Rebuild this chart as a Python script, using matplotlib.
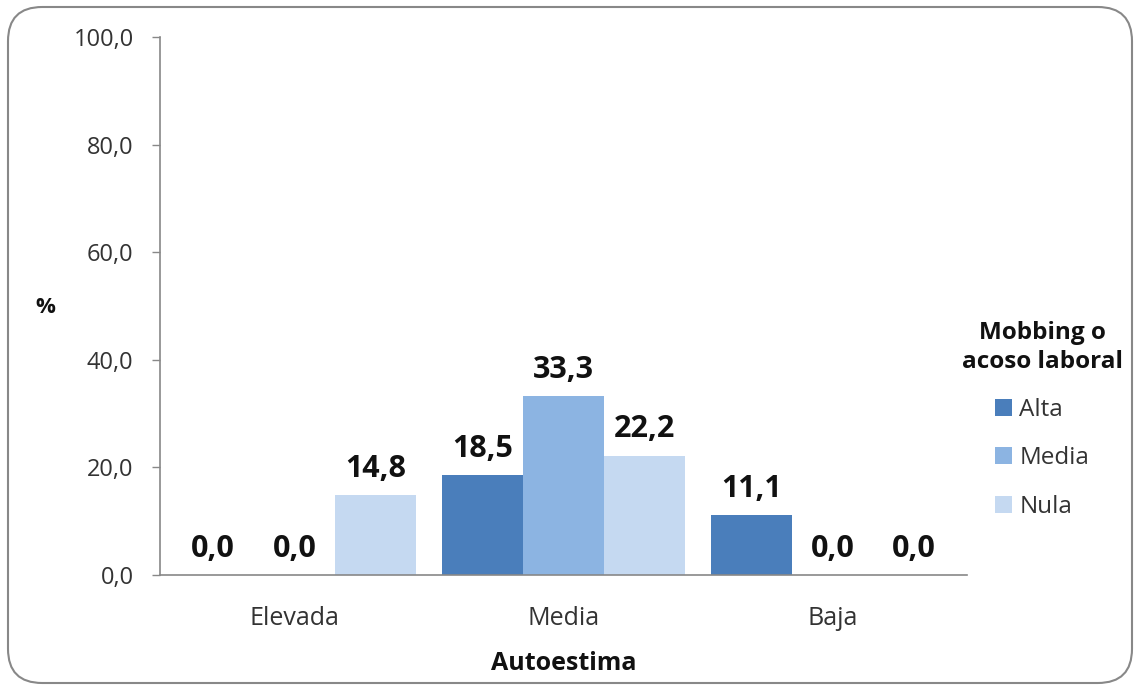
import matplotlib
matplotlib.use("Agg")
import matplotlib.pyplot as plt
import numpy as np
from matplotlib.patches import FancyBboxPatch

categories = ["Elevada", "Media", "Baja"]
series_names = ["Alta", "Media", "Nula"]
alta = [0.0, 18.5, 11.1]
media = [0.0, 33.3, 0.0]
nula = [14.8, 22.2, 0.0]
yticks = [0, 20, 40, 60, 80, 100]

colors = ["#4a7ebb", "#8cb4e2", "#c5d9f1"]
font = ["Open Sans", "DejaVu Sans"]
plt.rcParams['font.family'] = font

fig = plt.figure(figsize=(11.4, 6.9), dpi=100)
ax = fig.add_axes([160/1140, 1-575/690, (967-160)/1140, (575-37)/690])

x = np.arange(len(categories))
w = 0.302
for i, (vals, name, c) in enumerate(zip([alta, media, nula], series_names, colors)):
    pos = x + (i - 1) * w
    bars = ax.bar(pos, vals, width=w, color=c, label=name, zorder=2)
    for xp, v in zip(pos, vals):
        ax.annotate(f"{v:.1f}".replace(".", ","), (xp, v), xytext=(0, 8),
                    textcoords="offset points", ha="center", va="bottom",
                    fontsize=22, fontweight="bold", color="#111111")

ax.set_xlim(-0.5, 2.5)
ax.set_ylim(0, 100)
ax.set_yticks(yticks)
ax.set_yticklabels([f"{t:.1f}".replace(".", ",") for t in yticks])
ax.set_xticks(x)
ax.set_xticklabels(categories)
ax.tick_params(axis="y", length=6, width=1, color="#888888", labelsize=17,
               labelcolor="#333333", pad=13)
ax.tick_params(axis="x", length=0, labelsize=18, labelcolor="#333333", pad=22)
for s in ["top", "right"]:
    ax.spines[s].set_visible(False)
for s in ["left", "bottom"]:
    ax.spines[s].set_color("#888888")
    ax.spines[s].set_linewidth(1.2)

ax.set_xlabel("Autoestima", fontsize=18, fontweight="bold", labelpad=15, color="#111111")
fig.text(45/1140, 1-308/690, "%", fontsize=16, fontweight="bold", ha="center", va="center", color="#111111")

leg = ax.legend(title="Mobbing o\nacoso laboral", loc="center", bbox_to_anchor=(1042/1140, 1-420/690),
                bbox_transform=fig.transFigure, frameon=False, fontsize=17.5,
                title_fontproperties={"size": 17.5, "weight": "bold"},
                handlelength=0.7, handleheight=0.7, handletextpad=0.3, labelspacing=1.0)
leg.get_title().set_multialignment("center")
leg.get_title().set_color("#111111")
leg.get_title().set_linespacing(1.25)
for t in leg.get_texts():
    t.set_color("#333333")

border = FancyBboxPatch((8/1140, 7/690), 1124/1140, 676/690,
                        boxstyle="round,pad=0,rounding_size=0.03",
                        transform=fig.transFigure, fill=False, edgecolor="#888888",
                        linewidth=1.5, mutation_aspect=1140/690)
fig.patches.append(border)

fig.savefig("out.png", dpi=100)
